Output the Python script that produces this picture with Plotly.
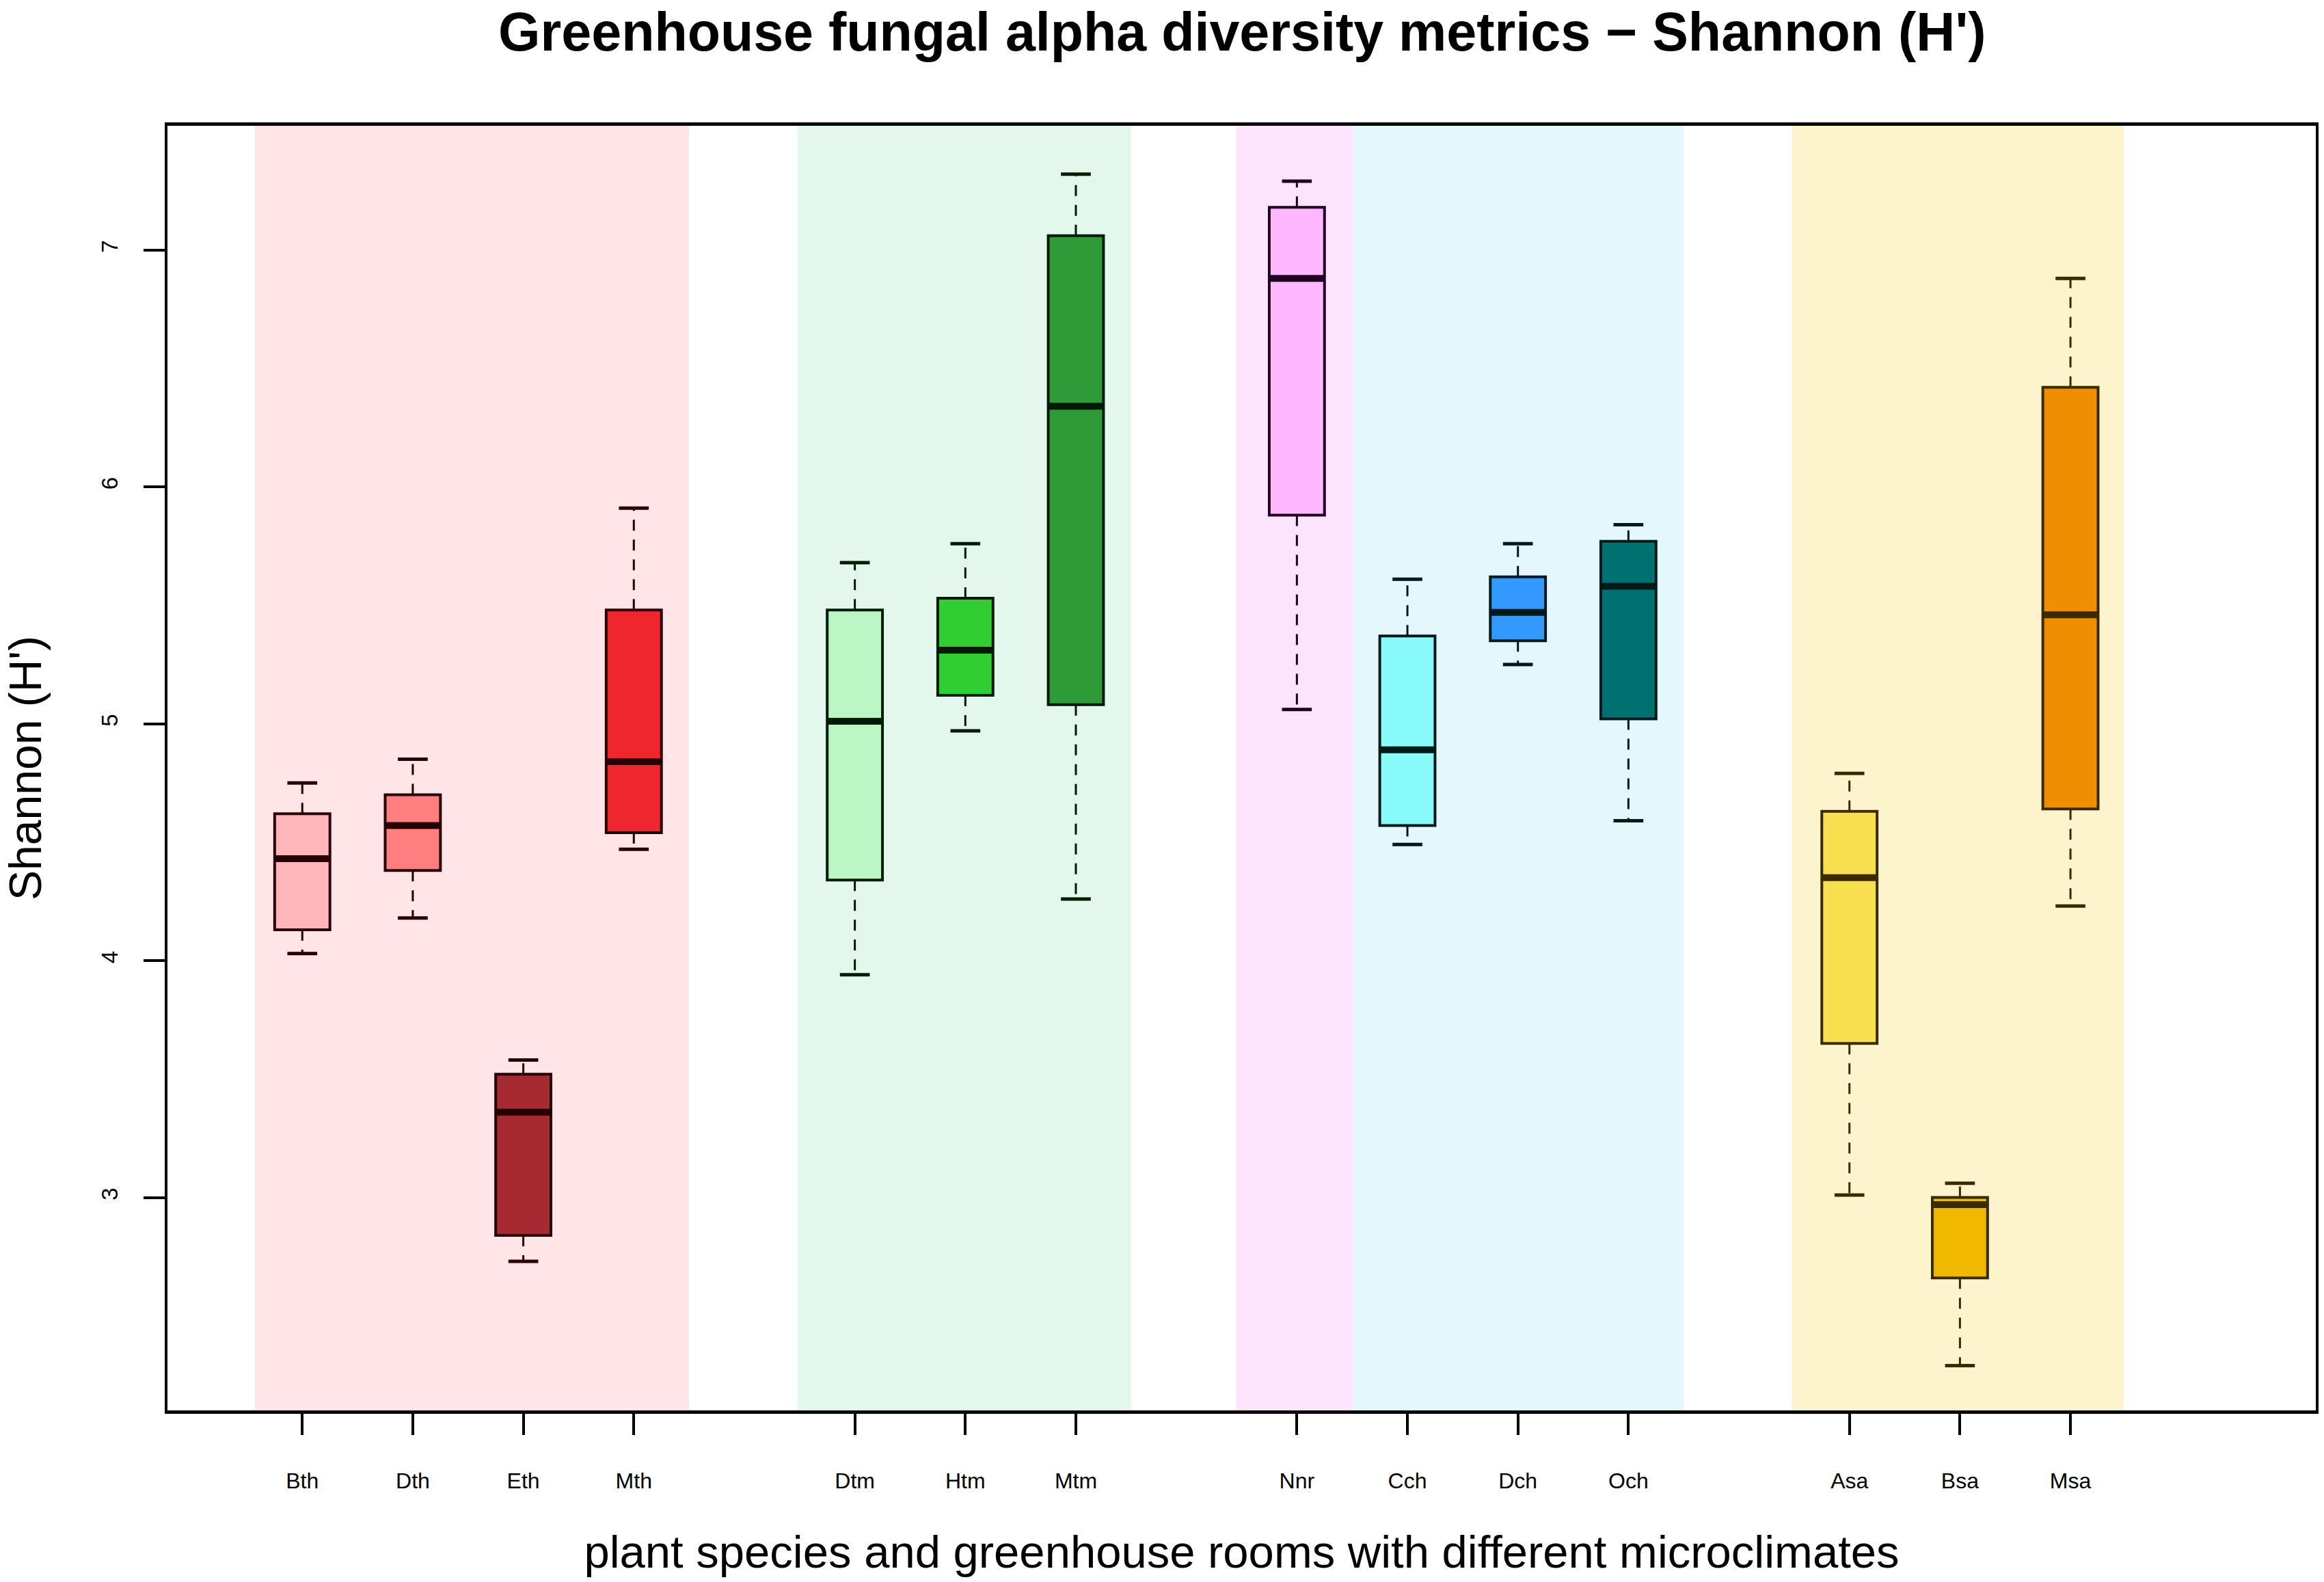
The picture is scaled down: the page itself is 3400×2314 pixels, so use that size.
import plotly.graph_objects as go

# ---------------- data ----------------
categories = ["Bth", "Dth", "Eth", "Mth", "Dtm", "Htm", "Mtm",
              "Nnr", "Cch", "Dch", "Och", "Asa", "Bsa", "Msa"]
positions = [1, 2, 3, 4, 6, 7, 8, 10, 11, 12, 13, 15, 16, 17]

whisker_low = [4.03, 4.18, 2.73, 4.47, 3.94, 4.97, 4.26, 5.06, 4.49, 5.25, 4.59, 3.01, 2.29, 4.23]
q1_vals     = [4.13, 4.38, 2.84, 4.54, 4.34, 5.12, 5.08, 5.88, 4.57, 5.35, 5.02, 3.65, 2.66, 4.64]
median_vals = [4.43, 4.57, 3.36, 4.84, 5.01, 5.31, 6.34, 6.88, 4.89, 5.47, 5.58, 4.35, 2.97, 5.46]
q3_vals     = [4.62, 4.70, 3.52, 5.48, 5.48, 5.53, 7.06, 7.18, 5.37, 5.62, 5.77, 4.63, 3.00, 6.42]
whisker_high = [4.75, 4.85, 3.58, 5.91, 5.68, 5.76, 7.32, 7.29, 5.61, 5.76, 5.84, 4.79, 3.06, 6.88]

fill_colors = ["#FFB6BA", "#FF7F80", "#A52A32", "#F0262E",
               "#BBF7C5", "#32CD32", "#2E9B38",
               "#FFB8FF", "#88FAFA", "#3399FF", "#007070",
               "#F7DF50", "#F0B800", "#EE8E00"]
line_colors = ["#260000", "#260000", "#260000", "#260000",
               "#001a05", "#001a05", "#001a05",
               "#200020", "#001a1a", "#001a1a", "#001a1a",
               "#3a2a00", "#3a2a00", "#3a2a00"]

band_ranges = [(0.57, 4.5), (5.48, 8.5), (9.45, 10.51), (10.51, 13.5), (14.48, 17.48)]
band_colors = ["#FFE4E8", "#E3F7EC", "#FCE4FC", "#E3F7FC", "#FDF3CC"]

y_ticks = [3, 4, 5, 6, 7]

title_text = "Greenhouse fungal alpha diversity metrics \u2212 Shannon (H')"
x_title = "plant species and greenhouse rooms with different microclimates"
y_title = "Shannon (H')"

BOX_W = 0.5
STAPLE_HALF = 0.135
MED_HALF = 0.245

fig = go.Figure()

for i, cat in enumerate(categories):
    p = positions[i]
    lc = line_colors[i]
    # dashed whiskers
    fig.add_trace(go.Scatter(
        x=[p, p, None, p, p],
        y=[q3_vals[i], whisker_high[i], None, q1_vals[i], whisker_low[i]],
        mode="lines", line=dict(color=lc, width=3, dash="16px,13px"),
        hoverinfo="skip", showlegend=False))
    # staples
    fig.add_trace(go.Scatter(
        x=[p - STAPLE_HALF, p + STAPLE_HALF, None, p - STAPLE_HALF, p + STAPLE_HALF],
        y=[whisker_high[i], whisker_high[i], None, whisker_low[i], whisker_low[i]],
        mode="lines", line=dict(color=lc, width=5),
        hoverinfo="skip", showlegend=False))
    # box
    fig.add_trace(go.Box(
        x=[p], q1=[q1_vals[i]], median=[median_vals[i]], q3=[q3_vals[i]],
        lowerfence=[q1_vals[i]], upperfence=[q3_vals[i]],
        width=BOX_W, fillcolor=fill_colors[i],
        line=dict(color=lc, width=4), whiskerwidth=0,
        name=cat, showlegend=False, boxpoints=False))
    # thick median
    fig.add_trace(go.Scatter(
        x=[p - MED_HALF, p + MED_HALF], y=[median_vals[i], median_vals[i]],
        mode="lines", line=dict(color=lc, width=10),
        hoverinfo="skip", showlegend=False))

shapes = []
for (x0, x1), c in zip(band_ranges, band_colors):
    shapes.append(dict(type="rect", xref="x", yref="paper", x0=x0, x1=x1, y0=0, y1=1,
                       fillcolor=c, line=dict(width=0), layer="below"))

FONT = "Liberation Sans, Arial, Helvetica, sans-serif"

fig.update_layout(
    width=3400, height=2314, autosize=False,
    paper_bgcolor="white", plot_bgcolor="white",
    margin=dict(l=245, r=8, t=184, b=251),
    shapes=shapes,
    showlegend=False,
    font=dict(family=FONT, color="black"),
    title=dict(text="<b>" + title_text + "</b>", x=0.5345, xanchor="center",
               y=1 - 46 / 2314, yanchor="middle", yref="container",
               font=dict(size=79, family=FONT, color="black")),
    xaxis=dict(range=[-0.22, 19.22], tickmode="array", tickvals=positions,
               ticktext=categories, ticks="outside", ticklen=31, tickwidth=4,
               tickcolor="black", showline=True, mirror=True, linewidth=5,
               linecolor="black", showgrid=False, zeroline=False,
               tickfont=dict(size=32, family=FONT), ticklabelstandoff=40,
               title=dict(text=x_title, font=dict(size=67, family=FONT), standoff=64)),
    yaxis=dict(range=[2.101, 7.524], tickmode="array", tickvals=y_ticks,
               ticktext=[str(v) for v in y_ticks], tickangle=-90,
               ticks="outside", ticklen=31, tickwidth=4, tickcolor="black",
               showline=True, mirror=True, linewidth=4, linecolor="black",
               showgrid=False, zeroline=False,
               tickfont=dict(size=33, family=FONT), ticklabelstandoff=25,
               title=dict(text=y_title, font=dict(size=66, family=FONT), standoff=74)),
)

fig.write_html("out.html", config={"displayModeBar": False},
               post_script="document.body.style.margin='0px';")
